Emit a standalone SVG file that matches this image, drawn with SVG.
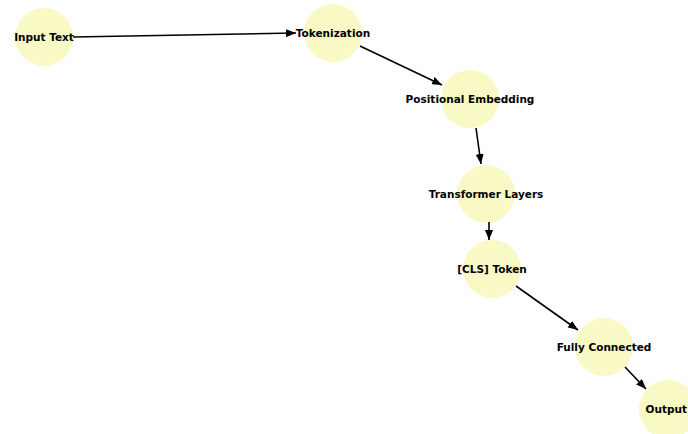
<svg xmlns="http://www.w3.org/2000/svg" width="688" height="434" viewBox="0 0 688 434">
  <style>
    .node circle { fill: #f9f9c6; }
    .node text { font-family: "DejaVu Sans", sans-serif; font-weight: bold; font-size: 10.5px; fill: #000; text-anchor: middle; dominant-baseline: central; }
    .edge { stroke: #000; stroke-width: 1.6; fill: none; marker-end: url(#arrow); }
  </style>
  <defs>
    <marker id="arrow" viewBox="0 0 10 8" refX="10" refY="4" markerWidth="10" markerHeight="8" markerUnits="userSpaceOnUse" orient="auto">
      <path d="M0,0 L10,4 L0,8 Z" fill="#000"/>
    </marker>
  </defs>
  <rect width="688" height="434" fill="#fff"/>
  <g id="nodes">
    <g id="input-text" class="node"><circle cx="44" cy="37" r="29"/><text x="44" y="37">Input Text</text></g>
    <g id="tokenization" class="node"><circle cx="333" cy="33" r="29"/><text x="333" y="33">Tokenization</text></g>
    <g id="positional-embedding" class="node"><circle cx="470" cy="99" r="29"/><text x="470" y="99">Positional Embedding</text></g>
    <g id="transformer-layers" class="node"><circle cx="486" cy="194" r="29"/><text x="486" y="194">Transformer Layers</text></g>
    <g id="cls-token" class="node"><circle cx="492" cy="269" r="29"/><text x="492" y="269">[CLS] Token</text></g>
    <g id="fully-connected" class="node"><circle cx="604" cy="347" r="29"/><text x="604" y="347">Fully Connected</text></g>
    <g id="output" class="node"><circle cx="668" cy="409" r="29"/><text x="687" y="409" style="text-anchor:end">Output</text></g>
  </g>
  <g id="connectors">
    <line class="edge" x1="73" y1="37" x2="296" y2="33"/>
    <line class="edge" x1="360" y1="46" x2="442" y2="85"/>
    <line class="edge" x1="476" y1="128" x2="481" y2="164"/>
    <line class="edge" x1="489" y1="222" x2="489" y2="240"/>
    <line class="edge" x1="516" y1="286" x2="578" y2="330"/>
    <line class="edge" x1="625" y1="367" x2="646" y2="389"/>
  </g>
</svg>
